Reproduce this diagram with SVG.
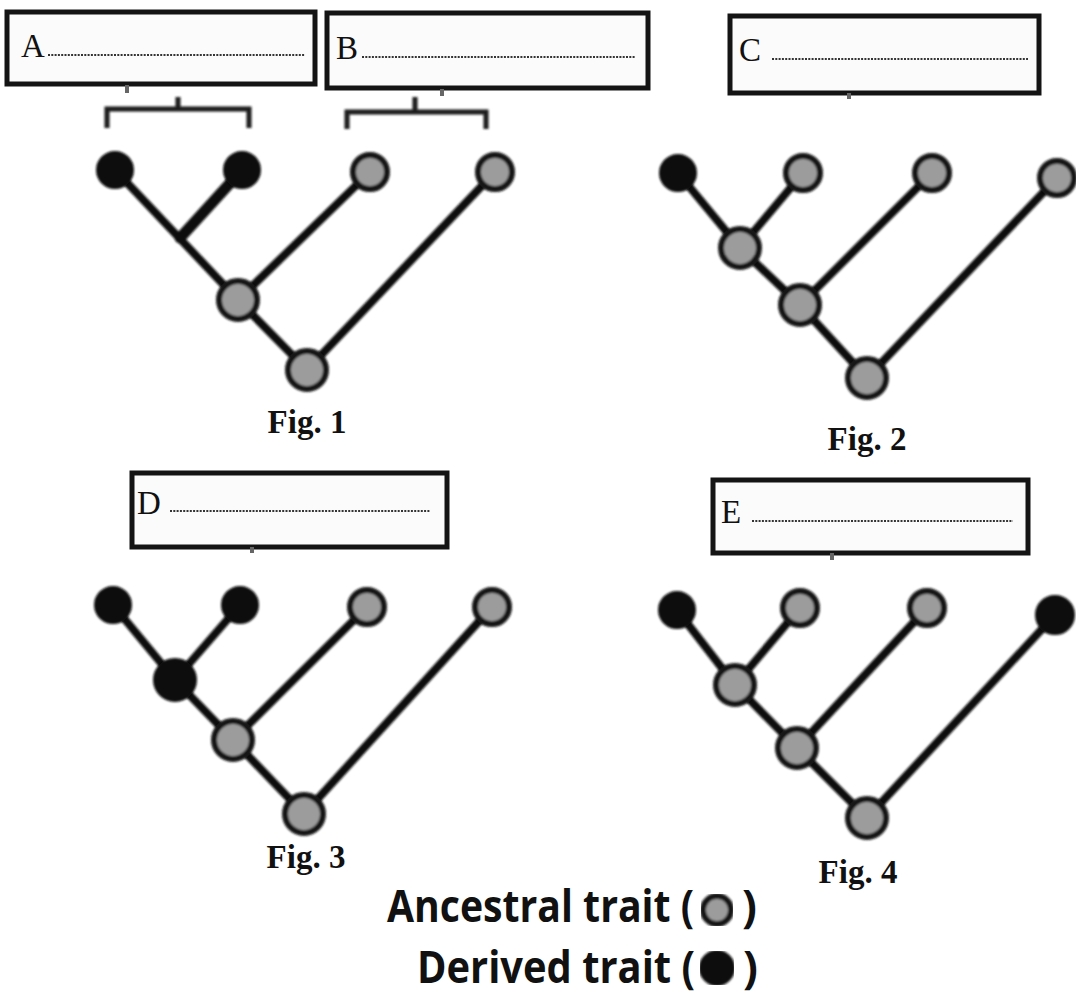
<svg xmlns="http://www.w3.org/2000/svg" width="1076" height="995" viewBox="0 0 1076 995">
<style>
.box{fill:#fbfbfb;stroke:#141414;stroke-width:5}
.lbl{font-family:"Liberation Serif",serif;font-size:33px;fill:#111}
.dots{stroke:#333;stroke-width:2;stroke-dasharray:2 1.3}
.tick{fill:#666}
.br{fill:none;stroke:#1a1a1a;stroke-width:5}
.edge{stroke:#111;stroke-width:8;stroke-linecap:round}
.anc{fill:#9c9c9c;stroke:#151515;stroke-width:6}
.der{fill:#0d0d0d;stroke:#0d0d0d;stroke-width:6}
.fig{font-family:"Liberation Serif",serif;font-weight:bold;font-size:33px;fill:#111;text-anchor:middle}
.leg{font-family:"Open Sans","Liberation Sans",sans-serif;font-weight:700;font-size:44px;fill:#111}
</style>
<defs>
<filter id="soft" x="-5%" y="-5%" width="110%" height="110%"><feGaussianBlur stdDeviation="0.9"/></filter>
</defs>
<rect width="1076" height="995" fill="#ffffff"/>

<!-- label boxes -->
<g id="box-a"><rect class="box" x="7" y="12" width="308" height="72"/><text class="lbl" x="21" y="57">A</text><line class="dots" x1="48" y1="55" x2="305" y2="55"/><rect class="tick" x="125" y="85" width="4" height="8"/></g>
<g id="box-b"><rect class="box" x="327" y="13" width="321" height="75"/><text class="lbl" x="336" y="59">B</text><line class="dots" x1="362" y1="57" x2="635" y2="57"/><rect class="tick" x="440" y="89" width="4" height="7"/></g>
<g id="box-c"><rect class="box" x="730" y="16" width="309" height="77"/><text class="lbl" x="739" y="61">C</text><line class="dots" x1="772" y1="59" x2="1028" y2="59"/><rect class="tick" x="847" y="93" width="4" height="6"/></g>
<g id="box-d"><rect class="box" x="132" y="473" width="315" height="74"/><text class="lbl" x="137" y="514">D</text><line class="dots" x1="170" y1="511" x2="430" y2="511"/><rect class="tick" x="250" y="547" width="4" height="6"/></g>
<g id="box-e"><rect class="box" x="713" y="480" width="315" height="73"/><text class="lbl" x="721" y="523">E</text><line class="dots" x1="752" y1="521" x2="1013" y2="521"/><rect class="tick" x="830" y="553" width="4" height="7"/></g>

<!-- connectors -->
<g id="connectors" filter="url(#soft)">
<path class="br" d="M107,128 V109 H249 V128 M178,109 V97"/>
<path class="br" d="M347,129 V112 H486 V129 M415,112 V97"/>
<!-- Fig 1 -->
<line class="edge" x1="307" y1="370" x2="238" y2="300"/>
<line class="edge" x1="238" y1="300" x2="115" y2="170"/>
<line class="edge" x1="180" y1="238" x2="242" y2="170" style="stroke-width:11"/>
<line class="edge" x1="238" y1="300" x2="370" y2="172"/>
<line class="edge" x1="307" y1="370" x2="495" y2="172"/>
<!-- Fig 2 -->
<line class="edge" x1="740" y1="248" x2="678" y2="173"/>
<line class="edge" x1="740" y1="248" x2="803" y2="173"/>
<line class="edge" x1="800" y1="305" x2="740" y2="248"/>
<line class="edge" x1="800" y1="305" x2="932" y2="173"/>
<line class="edge" x1="867" y1="378" x2="800" y2="305"/>
<line class="edge" x1="867" y1="378" x2="1057" y2="178"/>
<!-- Fig 3 -->
<line class="edge" x1="175" y1="680" x2="113" y2="605"/>
<line class="edge" x1="175" y1="680" x2="240" y2="605"/>
<line class="edge" x1="233" y1="740" x2="175" y2="680"/>
<line class="edge" x1="233" y1="740" x2="367" y2="607"/>
<line class="edge" x1="304" y1="814" x2="233" y2="740"/>
<line class="edge" x1="304" y1="814" x2="492" y2="607"/>
<!-- Fig 4 -->
<line class="edge" x1="735" y1="685" x2="677" y2="610"/>
<line class="edge" x1="735" y1="685" x2="800" y2="608"/>
<line class="edge" x1="797" y1="748" x2="735" y2="685"/>
<line class="edge" x1="797" y1="748" x2="927" y2="608"/>
<line class="edge" x1="867" y1="818" x2="797" y2="748"/>
<line class="edge" x1="867" y1="818" x2="1055" y2="615"/>
</g>

<g filter="url(#soft)">
<!-- Fig 1 nodes -->
<g id="f1-leaf1"><circle class="der" cx="115" cy="170" r="16"/></g>
<g id="f1-leaf2"><circle class="der" cx="242" cy="170" r="16"/></g>
<g id="f1-leaf3"><circle class="anc" cx="370" cy="172" r="17"/></g>
<g id="f1-leaf4"><circle class="anc" cx="495" cy="172" r="17"/></g>
<g id="f1-node1"><circle class="anc" cx="238" cy="300" r="19"/></g>
<g id="f1-root"><circle class="anc" cx="307" cy="370" r="19"/></g>

<!-- Fig 2 nodes -->
<g id="f2-leaf1"><circle class="der" cx="678" cy="173" r="16"/></g>
<g id="f2-leaf2"><circle class="anc" cx="803" cy="173" r="17"/></g>
<g id="f2-leaf3"><circle class="anc" cx="932" cy="173" r="17"/></g>
<g id="f2-leaf4"><circle class="anc" cx="1057" cy="178" r="17"/></g>
<g id="f2-node1"><circle class="anc" cx="740" cy="248" r="19"/></g>
<g id="f2-node2"><circle class="anc" cx="800" cy="305" r="19"/></g>
<g id="f2-root"><circle class="anc" cx="867" cy="378" r="19"/></g>

<!-- Fig 3 nodes -->
<g id="f3-leaf1"><circle class="der" cx="113" cy="605" r="16"/></g>
<g id="f3-leaf2"><circle class="der" cx="240" cy="605" r="16"/></g>
<g id="f3-leaf3"><circle class="anc" cx="367" cy="607" r="17"/></g>
<g id="f3-leaf4"><circle class="anc" cx="492" cy="607" r="17"/></g>
<g id="f3-node1"><circle class="der" cx="175" cy="680" r="19"/></g>
<g id="f3-node2"><circle class="anc" cx="233" cy="740" r="19"/></g>
<g id="f3-root"><circle class="anc" cx="304" cy="814" r="19"/></g>

<!-- Fig 4 nodes -->
<g id="f4-leaf1"><circle class="der" cx="677" cy="610" r="16"/></g>
<g id="f4-leaf2"><circle class="anc" cx="800" cy="608" r="17"/></g>
<g id="f4-leaf3"><circle class="anc" cx="927" cy="608" r="17"/></g>
<g id="f4-leaf4"><circle class="der" cx="1055" cy="615" r="17"/></g>
<g id="f4-node1"><circle class="anc" cx="735" cy="685" r="19"/></g>
<g id="f4-node2"><circle class="anc" cx="797" cy="748" r="19"/></g>
<g id="f4-root"><circle class="anc" cx="867" cy="818" r="19"/></g>
</g>

<!-- figure captions -->
<text class="fig" x="307" y="433">Fig. 1</text>
<text class="fig" x="867" y="450">Fig. 2</text>
<text class="fig" x="306" y="868">Fig. 3</text>
<text class="fig" x="858" y="883">Fig. 4</text>

<!-- legend -->
<g id="legend-ancestral">
<text class="leg" x="387" y="922" textLength="307" lengthAdjust="spacingAndGlyphs">Ancestral trait (</text>
<circle class="anc" cx="717" cy="910" r="14" filter="url(#soft)"/>
<text class="leg" x="742" y="922">)</text>
</g>
<g id="legend-derived">
<text class="leg" x="417" y="983" textLength="278" lengthAdjust="spacingAndGlyphs">Derived trait (</text>
<circle class="der" cx="717" cy="968" r="15" filter="url(#soft)"/>
<text class="leg" x="743" y="983">)</text>
</g>
</svg>
